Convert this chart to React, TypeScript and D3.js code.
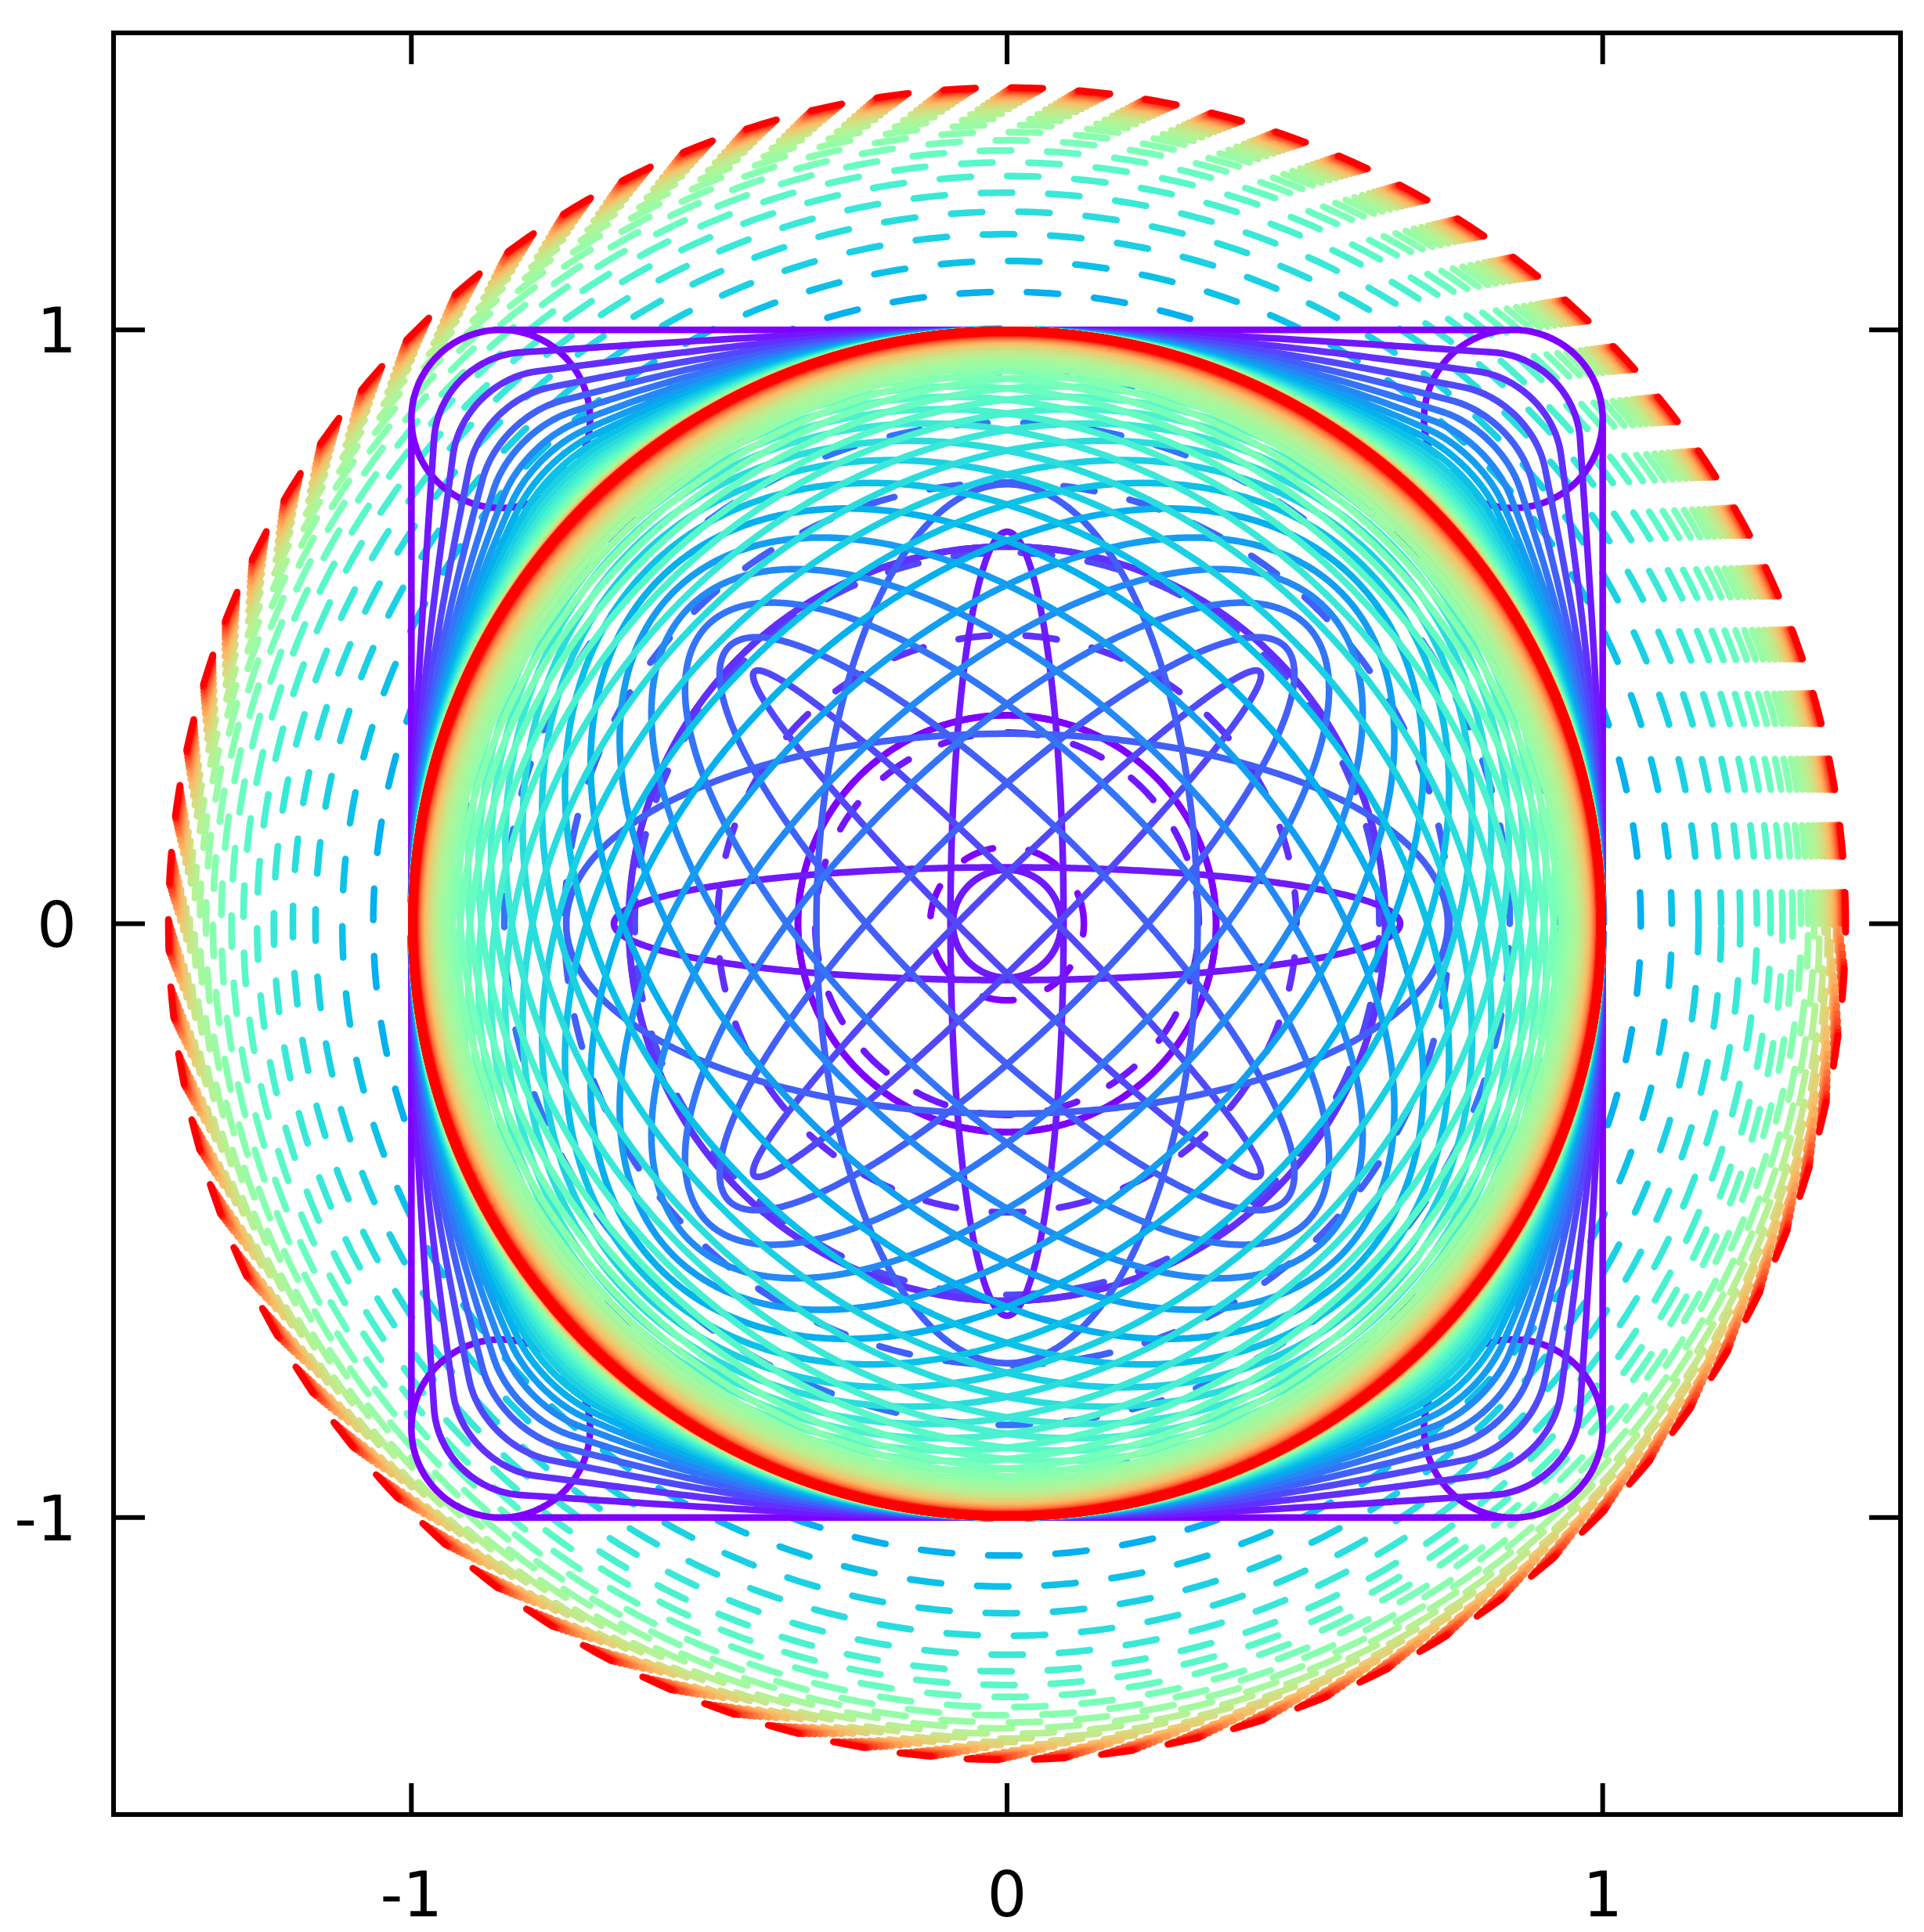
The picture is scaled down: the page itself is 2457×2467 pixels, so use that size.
import { useMemo } from "react";
import * as d3 from "d3";

const W = 2457;
const H = 2467;
const plot = { left: 145, right: 2427, top: 42, bottom: 2317 };

const xTicks = [-1, 0, 1];
const yTicks = [-1, 0, 1];
const tickLabels = ["-1", "0", "1"];

// frames of the morph, coloured along the rainbow palette
const frameCount = 34;

// dashed circles: radius per frame
const dashRadius = [
  0.129, 0.322, 0.486, 0.625, 0.743, 0.844, 0.929, 1.002, 1.064, 1.116,
  1.161, 1.199, 1.231, 1.259, 1.282, 1.302, 1.319, 1.333, 1.345, 1.355,
  1.364, 1.372, 1.378, 1.383, 1.388, 1.392, 1.395, 1.398, 1.4, 1.402,
  1.404, 1.406, 1.407, 1.408,
];

// outer solid curves: how far each frame still is from the circle (1 = square)
const squareGap = [
  1, 0.84, 0.7056, 0.5927, 0.4979, 0.4182, 0.3513, 0.2951, 0.2479, 0.2082,
  0.1749, 0.1469, 0.1234, 0.1037, 0.0871, 0.0731, 0.0614, 0.0516, 0.0434, 0.0364,
  0.0306, 0.0257, 0.0216, 0.0181, 0.0152, 0.0128, 0.0108, 0.009, 0.0076, 0.0064,
  0.0054, 0.0045, 0.0038, 0.0032,
];
const cornerRadius = 0.15;

// inner solid curves: ellipses (drawn with their 90deg turned twin)
const ellipseFrame = [0, 1, 1, 2, 3, 4, 4, 5, 6, 7, 8, 9, 10, 11, 12, 13, 14, 15, 16, 17, 18, 19, 20, 21, 22, 23, 24, 25, 26, 27, 28, 29, 30, 31, 32, 33];
const ellipseMajor = [0.351, 0.091, 0.66, 0.635, 0.6, 0.66, 0.74, 0.711, 0.754, 0.791, 0.823, 0.849, 0.872, 0.891, 0.908, 0.921, 0.933, 0.943, 0.952, 0.959, 0.965, 0.97, 0.975, 0.979, 0.982, 0.984, 0.987, 0.989, 0.99, 0.992, 0.993, 0.994, 0.995, 0.996, 0.996, 0.997];
const ellipseMinor = [0.351, 0.091, 0.095, 0.635, 0.06, 0.173, 0.32, 0.281, 0.38, 0.469, 0.548, 0.617, 0.677, 0.727, 0.771, 0.808, 0.839, 0.865, 0.887, 0.905, 0.921, 0.933, 0.945, 0.954, 0.961, 0.967, 0.973, 0.978, 0.981, 0.984, 0.987, 0.989, 0.991, 0.9925, 0.993, 0.995];
const ellipseTilt = [0, 0, 0, 0, 45, 45, 0, 45, 45, 45, 45, 45, 45, 45, 45, 45, 45, 45, 45, 45, 45, 45, 45, 45, 45, 45, 45, 45, 45, 45, 45, 45, 45, 45, 45, 45];

function rainbow(f: number) {
  const r = Math.min(1, Math.abs(2 * f - 0.5));
  const g = Math.sin(Math.PI * f);
  const b = Math.cos((Math.PI * f) / 2);
  return d3.rgb(r * 255, g * 255, b * 255).formatHex();
}

// distance from centre to the rounded square along a ray
function squareRadius(a: number) {
  let p = a % (Math.PI / 2);
  if (p < 0) p += Math.PI / 2;
  if (p > Math.PI / 4) p = Math.PI / 2 - p;
  const c = 1 - cornerRadius;
  if (Math.tan(p) <= c) return 1 / Math.cos(p);
  const b = Math.cos(p) * c + Math.sin(p) * c;
  return b + Math.sqrt(b * b - 2 * c * c + cornerRadius * cornerRadius);
}

const steps = d3.range(0, 721).map((i) => (i / 720) * 2 * Math.PI);

export default function App() {
  const x = d3.scaleLinear().domain([-1.5, 1.5]).range([plot.left, plot.right]);
  const y = d3.scaleLinear().domain([-1.5, 1.5]).range([plot.bottom, plot.top]);
  const line = d3
    .line<[number, number]>()
    .x((d) => x(d[0]))
    .y((d) => y(d[1]));

  const dashed = useMemo(
    () =>
      dashRadius.map((r, i) => ({
        d: line(steps.map((a) => [r * Math.cos(a), r * Math.sin(a)] as [number, number]))!,
        color: rainbow(i / (frameCount - 1)),
      })),
    []
  );

  const solids = useMemo(() => {
    const out: { d: string; color: string }[] = [];
    for (let n = 0; n < frameCount; n++) {
      const color = rainbow(n / (frameCount - 1));
      const g = squareGap[n];
      let pts: [number, number][] = [];
      if (n === 0) {
        // square with a full loop at every corner
        const c = 1 - cornerRadius;
        for (let k = 0; k < 4; k++) {
          const rot = (k * Math.PI) / 2;
          const quarter: [number, number][] = [[1, -c], [1, c]];
          d3.range(0, 181).forEach((j) => {
            const s = (j / 180) * 2.5 * Math.PI;
            quarter.push([c + cornerRadius * Math.cos(s), c + cornerRadius * Math.sin(s)]);
          });
          quarter.forEach(([px, py]) =>
            pts.push([px * Math.cos(rot) - py * Math.sin(rot), px * Math.sin(rot) + py * Math.cos(rot)])
          );
        }
        pts.push(pts[0]);
      } else {
        pts = steps.map((a) => {
          const rr = 1 + (squareRadius(a) - 1) * g;
          return [rr * Math.cos(a), rr * Math.sin(a)];
        });
      }
      out.push({ d: line(pts)!, color });
      ellipseFrame.forEach((f, i) => {
        if (f !== n) return;
        [0, 90].forEach((extra) => {
          const t = ((ellipseTilt[i] + extra) * Math.PI) / 180;
          const A = ellipseMajor[i];
          const B = ellipseMinor[i];
          const e = steps.map((s) => {
            const ex = A * Math.cos(s);
            const ey = B * Math.sin(s);
            return [ex * Math.cos(t) - ey * Math.sin(t), ex * Math.sin(t) + ey * Math.cos(t)] as [number, number];
          });
          out.push({ d: line(e)!, color });
        });
      });
    }
    return out;
  }, []);

  const font = { fontFamily: "DejaVu Sans", fontSize: 80 };

  return (
    <svg
      width={W}
      height={H}
      style={{ position: "absolute", left: 0, top: 0, background: "#ffffff" }}
    >
      <rect x={0} y={0} width={W} height={H} fill="#ffffff" />
      <defs>
        <clipPath id="area">
          <rect x={plot.left} y={plot.top} width={plot.right - plot.left} height={plot.bottom - plot.top} />
        </clipPath>
      </defs>
      <g clipPath="url(#area)" fill="none" strokeLinecap="round" strokeLinejoin="round">
        {dashed.map((c, i) => (
          <path key={"d" + i} d={c.d} stroke={c.color} strokeWidth={8.5} strokeDasharray="40 46" />
        ))}
        {solids.map((c, i) => (
          <path key={"s" + i} d={c.d} stroke={c.color} strokeWidth={8.5} />
        ))}
      </g>
      <g stroke="#000" strokeWidth={6}>
        {xTicks.map((v) => (
          <g key={"xt" + v}>
            <line x1={x(v)} x2={x(v)} y1={plot.bottom} y2={plot.bottom - 40} />
            <line x1={x(v)} x2={x(v)} y1={plot.top} y2={plot.top + 40} />
          </g>
        ))}
        {yTicks.map((v) => (
          <g key={"yt" + v}>
            <line x1={plot.left} x2={plot.left + 40} y1={y(v)} y2={y(v)} />
            <line x1={plot.right} x2={plot.right - 40} y1={y(v)} y2={y(v)} />
          </g>
        ))}
        <rect
          x={plot.left}
          y={plot.top}
          width={plot.right - plot.left}
          height={plot.bottom - plot.top}
          fill="none"
        />
      </g>
      {xTicks.map((v, i) => (
        <text key={"xl" + v} x={x(v)} y={2447} textAnchor="middle" {...font}>
          {tickLabels[i]}
        </text>
      ))}
      {yTicks.map((v, i) => (
        <text key={"yl" + v} x={98} y={y(v) + 29} textAnchor="end" {...font}>
          {tickLabels[i]}
        </text>
      ))}
    </svg>
  );
}
